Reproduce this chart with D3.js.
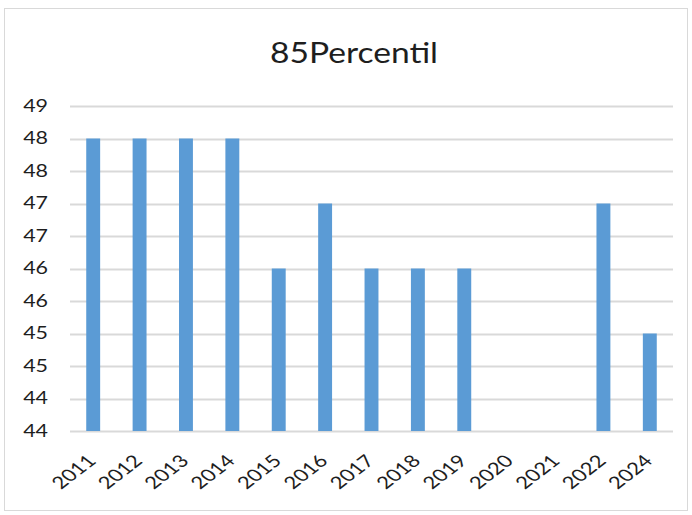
<!DOCTYPE html>
<html>
<head>
<meta charset="utf-8">
<script src="https://cdn.jsdelivr.net/npm/d3@7"></script>
<style>
  body { margin: 0; background: #fff; }
  text { font-family: Lato, Calibri, "Open Sans", sans-serif; fill: #1e1e1e; }
</style>
</head>
<body>
<script>
// Data
const years = ["2011", "2012", "2013", "2014", "2015", "2016", "2017", "2018", "2019", "2020", "2021", "2022", "2024"];
const values = [48.5, 48.5, 48.5, 48.5, 46.5, 47.5, 46.5, 46.5, 46.5, null, null, 47.5, 45.5];
const tickValues = [44, 44.5, 45, 45.5, 46, 46.5, 47, 47.5, 48, 48.5, 49];
const tickLabels = ["44", "44", "45", "45", "46", "46", "47", "47", "48", "48", "49"];

// Chartsize
const w = 692, h = 515;
const margin = {top: 106, right: 19, bottom: 84, left: 70};
const stretch = 1.3; // the picture is wider than tall, text looks stretched

const svg = d3.select("body").append("svg")
  .attr("width", w)
  .attr("height", h);

// Chart border
svg.append("rect")
  .attr("x", 4.5).attr("y", 8.5)
  .attr("width", w - 9).attr("height", h - 13)
  .attr("fill", "#fff")
  .attr("stroke", "#d9d9d9");

// Title
svg.append("text")
  .attr("transform", "translate(354,63) scale(1.2,1)")
  .attr("text-anchor", "middle")
  .style("font-size", "28px")
  .text("85Percentil");

const x = d3.scaleBand()
  .domain(years)
  .range([margin.left, w - margin.right])
  .paddingInner(0.7)
  .paddingOuter(0.35);

const y = d3.scaleLinear()
  .domain([44, 49])
  .range([h - margin.bottom, margin.top]);

// Gridlines
svg.append("g")
  .selectAll("line")
  .data(tickValues)
  .enter()
  .append("line")
  .attr("x1", margin.left)
  .attr("x2", w - margin.right)
  .attr("y1", d => Math.round(y(d)) + 0.5)
  .attr("y2", d => Math.round(y(d)) + 0.5)
  .attr("stroke", "#d9d9d9")
  .attr("stroke-width", 2);

// Y axis labels
svg.append("g")
  .selectAll("text")
  .data(tickValues)
  .enter()
  .append("text")
  .attr("transform", d => "translate(48," + y(d) + ") scale(" + stretch + ",1)")
  .attr("dy", "0.36em")
  .attr("text-anchor", "end")
  .style("font-size", "16.5px")
  .text((d, i) => tickLabels[i]);

// Bars
svg.append("g")
  .selectAll("rect")
  .data(years.map((d, i) => ({year: d, value: values[i]})).filter(d => d.value != null))
  .enter()
  .append("rect")
  .attr("x", d => x(d.year))
  .attr("y", d => y(d.value))
  .attr("width", x.bandwidth())
  .attr("height", d => y(44) - y(d.value))
  .attr("fill", "#5b9bd5");

// X axis labels
svg.append("g")
  .selectAll("text")
  .data(years)
  .enter()
  .append("text")
  .attr("transform", d => "translate(" + (x(d) + x.bandwidth() / 2 + 4) + "," + (h - margin.bottom + 31) + ") scale(" + stretch + ",1) rotate(-45)")
  .attr("text-anchor", "end")
  .style("font-size", "17px")
  .text(d => d);
</script>
</body>
</html>
